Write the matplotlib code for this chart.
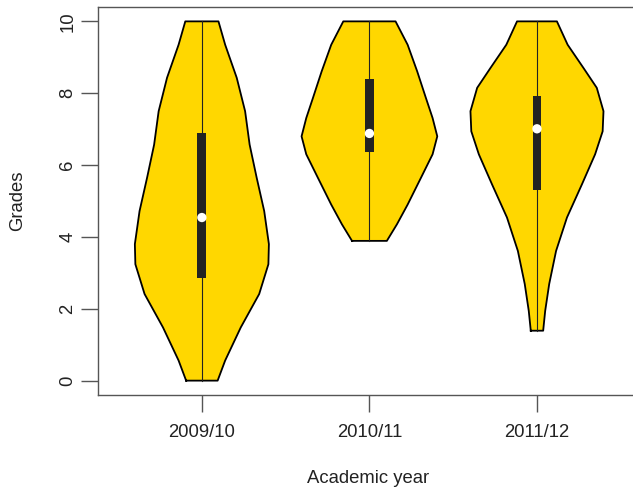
import matplotlib.pyplot as plt
import numpy as np

plt.rcParams['font.family'] = ['Liberation Sans', 'DejaVu Sans']

years = ['2009/10', '2010/11', '2011/12']

# violin outlines: grade level -> half width (x units)
grades_1 = [0.0, 0.56, 1.48, 2.41, 3.24, 3.8, 4.72, 5.65, 6.57, 7.5, 8.43, 9.35, 10.0]
width_1 = [0.094, 0.139, 0.232, 0.342, 0.397, 0.400, 0.372, 0.327, 0.285, 0.258, 0.208, 0.139, 0.099]

grades_2 = [3.89, 4.35, 4.9, 5.65, 6.3, 6.8, 7.31, 7.87, 8.61, 9.35, 10.0]
width_2 = [0.104, 0.164, 0.228, 0.308, 0.377, 0.405, 0.377, 0.337, 0.285, 0.228, 0.156]

grades_3 = [1.39, 1.94, 2.69, 3.61, 4.54, 5.46, 6.3, 6.94, 7.5, 8.15, 8.7, 9.35, 10.0]
width_3 = [0.037, 0.049, 0.073, 0.114, 0.179, 0.268, 0.347, 0.392, 0.397, 0.357, 0.278, 0.183, 0.119]

whisk_lo = [0.0, 3.89, 1.39]
whisk_hi = [10.0, 10.0, 10.0]
q1 = [2.87, 6.37, 5.32]
q3 = [6.9, 8.4, 7.92]
medians = [4.54, 6.88, 7.01]

outlines = [(grades_1, width_1), (grades_2, width_2), (grades_3, width_3)]

fig = plt.figure(figsize=(6.33, 4.91), dpi=100)
ax = fig.add_axes([98 / 633, 1 - 395 / 491, (637.5 - 98) / 633, (395 - 7) / 491])

for i, (g, w) in enumerate(outlines):
    pos = i + 1
    g = np.array(g)
    w = np.array(w)
    ax.fill_betweenx(g, pos - w, pos + w, facecolor='#FFD700', edgecolor='none', zorder=1)
    xs = np.concatenate([pos - w, (pos + w)[::-1], [pos - w[0]]])
    ys = np.concatenate([g, g[::-1], [g[0]]])
    ax.plot(xs, ys, color='black', lw=1.3, zorder=2, solid_joinstyle='round')
    ax.plot([pos, pos], [whisk_lo[i], whisk_hi[i]], color='#222222', lw=0.8, zorder=3)
    ax.bar(pos, q3[i] - q1[i], bottom=q1[i], width=0.053, color='#222222', zorder=4)
    ax.scatter([pos], [medians[i]], s=45, color='white', zorder=5, edgecolors='none')

ax.set_xlim(0.38, 3.6)
ax.set_ylim(-0.4, 10.4)
ax.set_xticks([1, 2, 3])
ax.set_xticklabels(years)
ax.set_yticks([0, 2, 4, 6, 8, 10])
ax.set_yticklabels(['0', '2', '4', '6', '8', '10'], rotation=90, va='center')
ax.spines['right'].set_visible(False)
for s in ['top', 'left', 'bottom']:
    ax.spines[s].set_color('#555555')
    ax.spines[s].set_linewidth(1.0)
ax.tick_params(axis='both', length=12, width=1.0, color='#555555', labelsize=13.3,
               labelcolor='#222222')
ax.tick_params(axis='y', pad=3.5)
ax.tick_params(axis='x', pad=9)
ax.set_xlabel('Academic year', fontsize=13.3, color='#222222', labelpad=21)
ax.set_ylabel('Grades', fontsize=13.3, color='#222222', labelpad=24)

fig.savefig('out.png', dpi=100)
